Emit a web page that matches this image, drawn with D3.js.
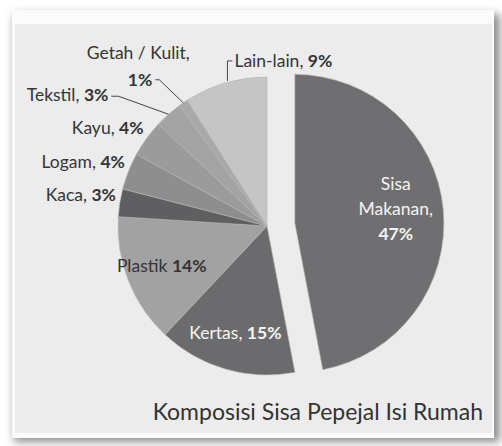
<!DOCTYPE html>
<html>
<head>
<meta charset="utf-8">
<script src="https://cdn.jsdelivr.net/npm/d3@7"></script>
<style>
  body { margin: 0; background: #ffffff; }
  svg { display: block; font-family: Lato, "Open Sans", sans-serif; }
</style>
</head>
<body>
<div id="chart"></div>
<script>
// composition data, clockwise from 12 o'clock
var categories = ["Sisa Makanan", "Kertas", "Plastik", "Kaca", "Logam", "Kayu", "Tekstil", "Getah / Kulit", "Lain-lain"];
var percents = [47, 15, 14, 3, 4, 4, 3, 1, 9];
var labelNames = ["Makanan,", "Kertas,", "Plastik", "Kaca,", "Logam,", "Kayu,", "Tekstil,", "Getah / Kulit,", "Lain-lain,"];
var title = "Komposisi Sisa Pepejal Isi Rumah";

var width = 502, height = 446;
var cx = 267, cy = 226, r = 149;
var explode = 28;
var fs = 17.5;

var color = d3.scaleOrdinal()
    .domain(categories)
    .range(["#6f6f71", "#6b6b6d", "#a2a2a3", "#5f5f61", "#8e8e8f", "#9b9b9c", "#a3a3a4", "#a9a9aa", "#c5c5c6"]);

var svg = d3.select("#chart")
    .append("svg")
    .attr("width", width)
    .attr("height", height);

var defs = svg.append("defs");
defs.append("filter")
    .attr("id", "shadow")
    .attr("x", "-10%").attr("y", "-10%")
    .attr("width", "120%").attr("height", "120%")
    .append("feGaussianBlur")
    .attr("stdDeviation", 4);

// frame + shadow
svg.append("rect")
    .attr("x", 14).attr("y", 14)
    .attr("width", 486).attr("height", 428)
    .attr("fill", "#8f8f8f")
    .attr("filter", "url(#shadow)");
svg.append("rect")
    .attr("x", 12).attr("y", 10)
    .attr("width", 482).attr("height", 428)
    .attr("fill", "#fbfbfb");
svg.append("rect")
    .attr("x", 15).attr("y", 24)
    .attr("width", 477).attr("height", 409)
    .attr("fill", "#ececec");

var pie = d3.pie().sort(null).value(d => d.value);
var data = categories.map((c, i) => ({ name: c, label: labelNames[i], value: percents[i] }));
var arcs = pie(data);

var arc = d3.arc().innerRadius(0).outerRadius(r);
var edgeArc = d3.arc().innerRadius(r).outerRadius(r);
var outArc = d3.arc().innerRadius(r + 6).outerRadius(r + 6);
var inArc = d3.arc().innerRadius(r * 0.76).outerRadius(r * 0.76);
var bigArc = d3.arc().innerRadius(r * 0.68).outerRadius(r * 0.68);

function shift(d) {
    if (d.index !== 0) return [0, 0];
    var a = (d.startAngle + d.endAngle) / 2;
    return [explode * Math.sin(a), -explode * Math.cos(a)];
}

var g = svg.append("g").attr("transform", `translate(${cx},${cy})`);

g.selectAll("path.slice")
    .data(arcs)
    .join("path")
    .attr("class", "slice")
    .attr("d", arc)
    .attr("transform", d => `translate(${shift(d)})`)
    .attr("fill", d => color(d.data.name))
    .attr("stroke", "#b4b4b5")
    .attr("stroke-width", 0.6);

var labels = g.append("g");
var dark = "#353535";

function pct(sel, v) {
    sel.append("tspan").attr("font-weight", "bold").text(v + "%");
}

// big slice, white text inside
var d0 = arcs[0];
var p0 = bigArc.centroid(d0), s0 = shift(d0);
var t0 = labels.append("text")
    .attr("x", p0[0] + s0[0]).attr("y", p0[1] + s0[1])
    .attr("text-anchor", "middle")
    .attr("fill", "#f4f4f4")
    .attr("font-size", fs);
t0.append("tspan").attr("x", p0[0] + s0[0]).attr("dy", -24).text("Sisa");
t0.append("tspan").attr("x", p0[0] + s0[0]).attr("dy", 25).text(d0.data.label);
t0.append("tspan").attr("x", p0[0] + s0[0]).attr("dy", 25)
    .attr("font-weight", "bold").text(d0.data.value + "%");

// inside labels: Kertas (white), Plastik (dark)
[1, 2].forEach(function (i) {
    var d = arcs[i], p = inArc.centroid(d);
    var t = labels.append("text")
        .attr("x", p[0]).attr("y", p[1] + 4)
        .attr("text-anchor", "middle")
        .attr("fill", i === 1 ? "#f4f4f4" : dark)
        .attr("font-size", fs);
    t.append("tspan").text(d.data.label + " ");
    pct(t, d.data.value);
});

// outside labels without leader lines
[3, 4, 5].forEach(function (i) {
    var d = arcs[i], p = outArc.centroid(d);
    var t = labels.append("text")
        .attr("x", p[0] + 2).attr("y", p[1] - 1)
        .attr("text-anchor", "end")
        .attr("fill", dark)
        .attr("font-size", fs);
    t.append("tspan").text(d.data.label + " ");
    pct(t, d.data.value);
});

// leader lines
var line = d3.line();
function leader(pts) {
    labels.append("path")
        .attr("d", line(pts))
        .attr("fill", "none")
        .attr("stroke", "#444")
        .attr("stroke-width", 1);
}

// Tekstil
var dT = arcs[6], eT = edgeArc.centroid(dT);
leader([eT, [eT[0] - 50, eT[1] - 18], [eT[0] - 57, eT[1] - 18]]);
var tT = labels.append("text")
    .attr("x", eT[0] - 60).attr("y", eT[1] - 13)
    .attr("text-anchor", "end").attr("fill", dark).attr("font-size", fs);
tT.append("tspan").text(dT.data.label + " ");
pct(tT, dT.data.value);

// Getah / Kulit
var dG = arcs[7], eG = edgeArc.centroid(dG);
leader([eG, [eG[0] - 24, eG[1] - 23], [eG[0] - 28, eG[1] - 23]]);
labels.append("text")
    .attr("x", eG[0] - 45).attr("y", eG[1] - 44)
    .attr("text-anchor", "middle").attr("fill", dark).attr("font-size", fs)
    .text(dG.data.label);
labels.append("text")
    .attr("x", eG[0] - 31).attr("y", eG[1] - 17)
    .attr("text-anchor", "end").attr("fill", dark).attr("font-size", fs)
    .attr("font-weight", "bold").text(dG.data.value + "%");

// Lain-lain
var dL = arcs[8], eL = edgeArc.centroid(dL);
leader([[eL[0] + 2, eL[1] - 2], [eL[0] + 2, eL[1] - 22], [eL[0] + 7, eL[1] - 22]]);
var tL = labels.append("text")
    .attr("x", eL[0] + 9).attr("y", eL[1] - 16)
    .attr("text-anchor", "start").attr("fill", dark).attr("font-size", fs);
tL.append("tspan").text(dL.data.label + " ");
pct(tL, dL.data.value);

// title
svg.append("text")
    .attr("x", 483).attr("y", 420)
    .attr("text-anchor", "end")
    .attr("fill", "#333")
    .attr("font-size", 23)
    .text(title);
</script>
</body>
</html>
